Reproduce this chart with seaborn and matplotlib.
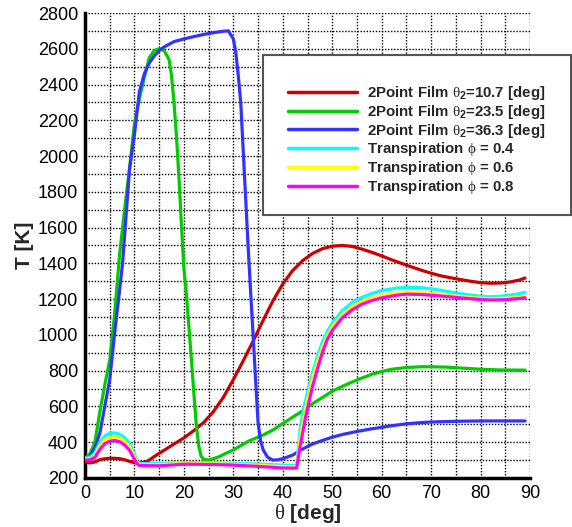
import numpy as np
import pandas as pd
import matplotlib
matplotlib.use("Agg")
import matplotlib.pyplot as plt
from matplotlib.patches import Rectangle
from matplotlib.ticker import MultipleLocator
import seaborn as sns

# ---------------- data ----------------
theta_red = [0, 1, 2, 3, 4, 5, 6, 7, 8, 9, 10, 11, 12, 13, 14, 16, 18, 20, 22, 24, 26, 28, 30,
             32, 34, 36, 38, 40, 42, 44, 46, 48, 50, 52, 54, 56, 58, 60, 62, 65, 68, 70, 72,
             75, 78, 80, 82, 84, 86, 88, 89]
T_red = [290, 284, 290, 302, 308, 310, 310, 308, 302, 293, 285, 284, 287, 300, 320, 355, 390,
         424, 465, 510, 572, 652, 750, 855, 965, 1080, 1190, 1285, 1360, 1415, 1455, 1482, 1496,
         1500, 1495, 1480, 1462, 1442, 1420, 1390, 1362, 1345, 1330, 1314, 1300, 1292, 1289,
         1290, 1296, 1308, 1318]

theta_green = [0, 1, 2, 3, 4, 5, 6, 7, 8, 9, 10, 11, 12, 13, 14, 15, 16, 17, 17.5, 18, 18.5, 19,
               19.5, 20, 20.5, 21, 21.5, 22, 22.5, 23, 23.5, 24, 25, 27, 30, 33, 36, 38, 40, 42,
               44, 46, 48, 50, 52, 55, 58, 60, 62, 65, 68, 70, 73, 76, 80, 84, 89]
T_green = [310, 335, 400, 570, 720, 860, 1120, 1450, 1700, 1930, 2180, 2320, 2440, 2550, 2590,
           2600, 2590, 2540, 2450, 2300, 2110, 1880, 1620, 1370, 1230, 1050, 870, 680, 500, 380,
           320, 305, 300, 318, 357, 405, 440, 468, 505, 540, 575, 615, 650, 685, 712, 748, 780,
           795, 808, 818, 822, 822, 820, 815, 808, 804, 803]

theta_blue = [0, 1, 2, 3, 4, 5, 6, 7, 7.6, 8, 9, 10, 11, 12, 13, 14, 15, 16, 18, 20, 22, 24, 26,
              28, 29, 30, 30.5, 31, 31.5, 32, 32.5, 33, 33.5, 34, 34.5, 35, 35.5, 36, 36.5, 37,
              38, 39, 40, 42, 44, 46, 48, 50, 52, 55, 58, 60, 62, 65, 68, 70, 75, 80, 85, 89]
T_blue = [300, 320, 370, 450, 600, 750, 1010, 1250, 1400, 1550, 1925, 2120, 2360, 2460, 2520,
          2560, 2590, 2610, 2640, 2655, 2668, 2680, 2690, 2698, 2700, 2655, 2580, 2450, 2300,
          2030, 1760, 1490, 1240, 1000, 750, 510, 410, 360, 335, 315, 300, 302, 308, 328, 362,
          390, 410, 428, 443, 460, 475, 483, 492, 503, 510, 513, 517, 519, 519, 519]

theta_trans = [0, 1, 2, 3, 4, 5, 6, 7, 8, 9, 10, 10.5, 11, 15, 20, 25, 30, 35, 40, 42.8, 43.5,
               44, 44.5, 45, 46, 47, 48, 49, 50, 52, 54, 56, 58, 60, 63, 65, 68, 70, 73, 76, 80,
               82, 85, 88, 89]
T_phi04 = [310, 315, 340, 400, 435, 450, 452, 445, 425, 395, 335, 290, 280, 282, 285, 285, 282,
           278, 272, 268, 470, 555, 620, 680, 785, 880, 960, 1020, 1065, 1135, 1180, 1210, 1232,
           1248, 1262, 1266, 1264, 1258, 1245, 1230, 1216, 1213, 1218, 1232, 1238]
T_phi06 = [305, 308, 325, 380, 415, 428, 430, 424, 405, 375, 320, 285, 275, 275, 281, 280, 277,
           271, 264, 262, 420, 500, 570, 640, 755, 850, 930, 995, 1045, 1112, 1158, 1188, 1206,
           1220, 1236, 1240, 1238, 1233, 1225, 1215, 1205, 1202, 1205, 1213, 1218]
T_phi08 = [300, 302, 315, 360, 392, 406, 410, 403, 385, 355, 305, 280, 270, 268, 277, 276, 272,
           265, 256, 255, 375, 450, 524, 590, 710, 810, 900, 975, 1025, 1095, 1140, 1172, 1192,
           1207, 1222, 1228, 1226, 1222, 1215, 1207, 1198, 1195, 1197, 1204, 1208]

labels = [r"2Point Film $\theta_\mathbf{2}$=10.7 [deg]",
          r"2Point Film $\theta_\mathbf{2}$=23.5 [deg]",
          r"2Point Film $\theta_\mathbf{2}$=36.3 [deg]",
          r"Transpiration $\phi$ = 0.4",
          r"Transpiration $\phi$ = 0.6",
          r"Transpiration $\phi$ = 0.8"]
colors = ["#cc0000", "#00cc00", "#3333ff", "#00ffff", "#ffff00", "#ff00ff"]

x_ticks = list(range(0, 91, 10))
y_ticks = list(range(200, 2801, 200))

# ---------------- style ----------------
sns.set_theme(style="white")
plt.rcParams["font.family"] = ["Liberation Sans", "DejaVu Sans"]
plt.rcParams["mathtext.fontset"] = "custom"
plt.rcParams["mathtext.rm"] = "Liberation Sans:bold"
plt.rcParams["mathtext.it"] = "Liberation Serif"
plt.rcParams["mathtext.bf"] = "Liberation Sans:bold"
plt.rcParams["mathtext.fallback"] = "stixsans"

fig = plt.figure(figsize=(5.72, 5.27), dpi=100)
ax = fig.add_axes([85 / 572, 1 - 478 / 527, 445 / 572, 465 / 527])

series = [(theta_red, T_red), (theta_green, T_green), (theta_blue, T_blue),
          (theta_trans, T_phi04), (theta_trans, T_phi06), (theta_trans, T_phi08)]
frames = []
for (th, tv), lab in zip(series, labels):
    frames.append(pd.DataFrame({"theta": th, "T": tv, "series": lab}))
df = pd.concat(frames, ignore_index=True)

for lab, col in zip(labels, colors):
    sub = df[df["series"] == lab]
    sns.lineplot(data=sub, x="theta", y="T", color=col, linewidth=2.3, ax=ax,
                 estimator=None, sort=False, label=lab, zorder=3)

ax.set_xlim(0, 90)
ax.set_ylim(200, 2800)
ax.set_xticks(x_ticks)
ax.set_yticks(y_ticks)
ax.xaxis.set_minor_locator(MultipleLocator(5))
ax.yaxis.set_minor_locator(MultipleLocator(100))
ax.grid(True, which="both", linestyle=(0, (1, 1.2)), color="black", linewidth=1.0, zorder=1)
ax.set_axisbelow(True)

for s in ["top", "right"]:
    ax.spines[s].set_visible(False)
for s in ["left", "bottom"]:
    ax.spines[s].set_visible(True)
    ax.spines[s].set_color("black")
    ax.spines[s].set_linewidth(2.5)

ax.tick_params(axis="both", which="major", direction="in", length=11, width=2.2,
               color="black", labelsize=13, labelcolor="black", pad=5)
ax.tick_params(axis="both", which="minor", direction="in", length=5, width=1.2, color="black")

ax.set_xlabel(r"$\theta$ [deg]", fontsize=15, fontweight="bold", labelpad=0)
ax.set_ylabel("T [K]", fontsize=15, fontweight="bold", labelpad=3)

# legend frame
rect = Rectangle((263 / 572, 1 - 215 / 527), 308 / 572, 160 / 527, transform=fig.transFigure,
                 facecolor="white", edgecolor="#555555", linewidth=1.5, zorder=5, clip_on=False)
fig.patches.append(rect)

handles, labs = ax.get_legend_handles_labels()
leg = fig.legend(handles, labs, loc="upper left", bbox_to_anchor=(288 / 572, 1 - 84 / 527),
                 frameon=False, borderpad=0, borderaxespad=0, handlelength=4.6,
                 handletextpad=0.65, labelspacing=0.05,
                 prop={"family": "Liberation Sans", "weight": "bold", "size": 10.8})
leg.set_zorder(6)
for h in leg.get_lines():
    h.set_linewidth(2.5)
if ax.get_legend() is not None:
    ax.get_legend().remove()

fig.savefig("out.png", dpi=100)
